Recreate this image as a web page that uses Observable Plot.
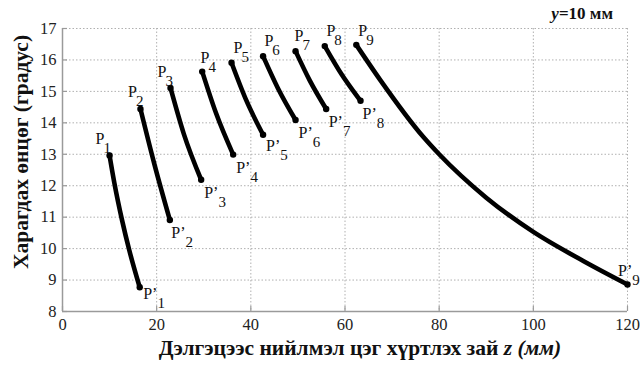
<!DOCTYPE html>
<html>
<head>
<meta charset="utf-8">
<script src="https://cdn.jsdelivr.net/npm/d3@7"></script>
<script src="https://cdn.jsdelivr.net/npm/@observablehq/plot@0.6"></script>
<style>
  body { margin: 0; background: #fff; }
  #chart { width: 642px; height: 368px; }
</style>
</head>
<body>
<div id="chart"></div>
<script>
// Viewing angle (degrees) vs. distance z (mm) to the fused point, y = 10 mm.
// Each curve runs from P_n (start) to P'_n (end): [z, angle] pairs.
const curve1 = [[10.0, 12.96], [11.0, 12.1], [12.67, 10.89], [14.2, 9.94], [16.4, 8.77]];
const curve2 = [[16.56, 14.44], [19.54, 12.67], [22.8, 10.91]];
const curve3 = [[22.94, 15.11], [25.76, 13.65], [29.45, 12.19]];
const curve4 = [[29.67, 15.63], [32.6, 14.31], [36.25, 12.99]];
const curve5 = [[35.9, 15.91], [38.9, 14.76], [42.6, 13.62]];
const curve6 = [[42.6, 16.12], [45.75, 15.10], [49.5, 14.09]];
const curve7 = [[49.5, 16.28], [52.5, 15.35], [56.0, 14.44]];
const curve8 = [[55.7, 16.44], [59.2, 15.56], [63.3, 14.70]];
const curve9 = [[62.4, 16.48], [67.5, 15.36], [76.7, 13.54], [80, 13.0], [90, 11.62], [100, 10.53], [110.7, 9.6], [120, 8.86]];

const curves = [curve1, curve2, curve3, curve4, curve5, curve6, curve7, curve8, curve9];
const xTicks = [0, 20, 40, 60, 80, 100, 120];
const yTicks = [8, 9, 10, 11, 12, 13, 14, 15, 16, 17];

// Label placement for each curve end, in pixels from the dot to the start/baseline of "P".
const startLabelOffsets = [[-14, -12], [-12.5, -11.5], [-13, -11.3], [-1.7, -9], [2, -9.3], [1.3, -9.7], [-1, -9.7], [1.7, -9.7], [2, -9]];
const endLabelOffsets = [[3.5, 11.3], [1.5, 17.7], [3, 18], [3, 18], [3, 16], [3, 17.7], [2.5, 17.7], [2, 18], [-9.5, -8.3]];

const rows = curves.flatMap((pts, i) => pts.map(([z, a]) => ({id: i + 1, z, a})));
const ends = curves.flatMap((pts, i) => [
  {id: i + 1, z: pts[0][0], a: pts[0][1], main: "P", prime: false, off: startLabelOffsets[i]},
  {id: i + 1, z: pts[pts.length - 1][0], a: pts[pts.length - 1][1], main: "P\u2019", prime: true, off: endLabelOffsets[i]}
]);

const grid = {stroke: "#b0b0b0", strokeOpacity: 1, strokeWidth: 1, strokeDasharray: "1.5,2"};
const axisColor = "#9a9a9a";
const serif = "'Liberation Serif', 'Times New Roman', serif";

// One text mark per end label; the subscript index is added as a tspan below.
const labelMarks = ends.map(d =>
  Plot.text([d], {x: "z", y: "a", text: "main", textAnchor: "start", lineAnchor: "bottom",
    dx: d.off[0], dy: d.off[1], fontSize: 16, fill: "#111"})
);

const chart = Plot.plot({
  width: 642,
  height: 368,
  marginLeft: 62,
  marginRight: 15,
  marginTop: 28,
  marginBottom: 57,
  x: {type: "linear", domain: [0, 120]},
  y: {type: "linear", domain: [8, 17]},
  style: {fontFamily: serif, fontSize: "16px", color: "#222", background: "#fff"},
  marks: [
    Plot.gridX(xTicks, grid),
    Plot.gridY(yTicks, grid),
    Plot.axisX(xTicks, {tickSize: -5, tickPadding: 12, label: null, fontSize: 16.5, fill: "#222", stroke: axisColor, strokeWidth: 1.2}),
    Plot.axisY(yTicks, {tickSize: -5, tickPadding: 11, label: null, fontSize: 16.5, fill: "#222", stroke: axisColor, strokeWidth: 1.2}),
    Plot.ruleX([0], {stroke: axisColor, strokeWidth: 1.5}),
    Plot.ruleY([8], {stroke: axisColor, strokeWidth: 1.5}),
    Plot.line(rows, {x: "z", y: "a", z: "id", curve: "monotone-x", stroke: "#000", strokeWidth: 4.6, strokeLinecap: "round"}),
    Plot.dot(ends, {x: "z", y: "a", r: 3.2, fill: "#000"}),
    ...labelMarks
  ]
});

document.getElementById("chart").append(chart);

const svg = d3.select(chart);

// Subscript indices for P_n / P'_n.
svg.selectAll('g[aria-label="text"]').each(function(_, i) {
  const d = ends[i];
  d3.select(this).select("text")
    .append("tspan")
    .attr("dx", d.prime ? 0 : -1)
    .attr("dy", 9)
    .attr("font-size", 15)
    .text(d.id);
});

// Axis titles and the y = 10 mm note, with mixed bold/italic runs.
svg.append("text")
  .attr("transform", "translate(28,152) rotate(-90)")
  .attr("text-anchor", "middle")
  .attr("font-family", serif)
  .attr("font-weight", "bold")
  .attr("font-size", 21.5)
  .attr("fill", "#111")
  .text("Харагдах өнцөг (градус)");

const xt = svg.append("text")
  .attr("x", 360).attr("y", 355)
  .attr("text-anchor", "middle")
  .attr("font-family", serif)
  .attr("font-weight", "bold")
  .attr("font-size", 21.5)
  .attr("fill", "#111");
xt.append("tspan").text("Дэлгэцээс нийлмэл цэг хүртлэх зай ");
xt.append("tspan").attr("font-style", "italic").text("z (мм)");

const note = svg.append("text")
  .attr("x", 613).attr("y", 19)
  .attr("text-anchor", "end")
  .attr("font-family", serif)
  .attr("font-weight", "bold")
  .attr("font-size", 17)
  .attr("fill", "#111");
note.append("tspan").attr("font-style", "italic").text("y");
note.append("tspan").text("=10 мм");
</script>
</body>
</html>
